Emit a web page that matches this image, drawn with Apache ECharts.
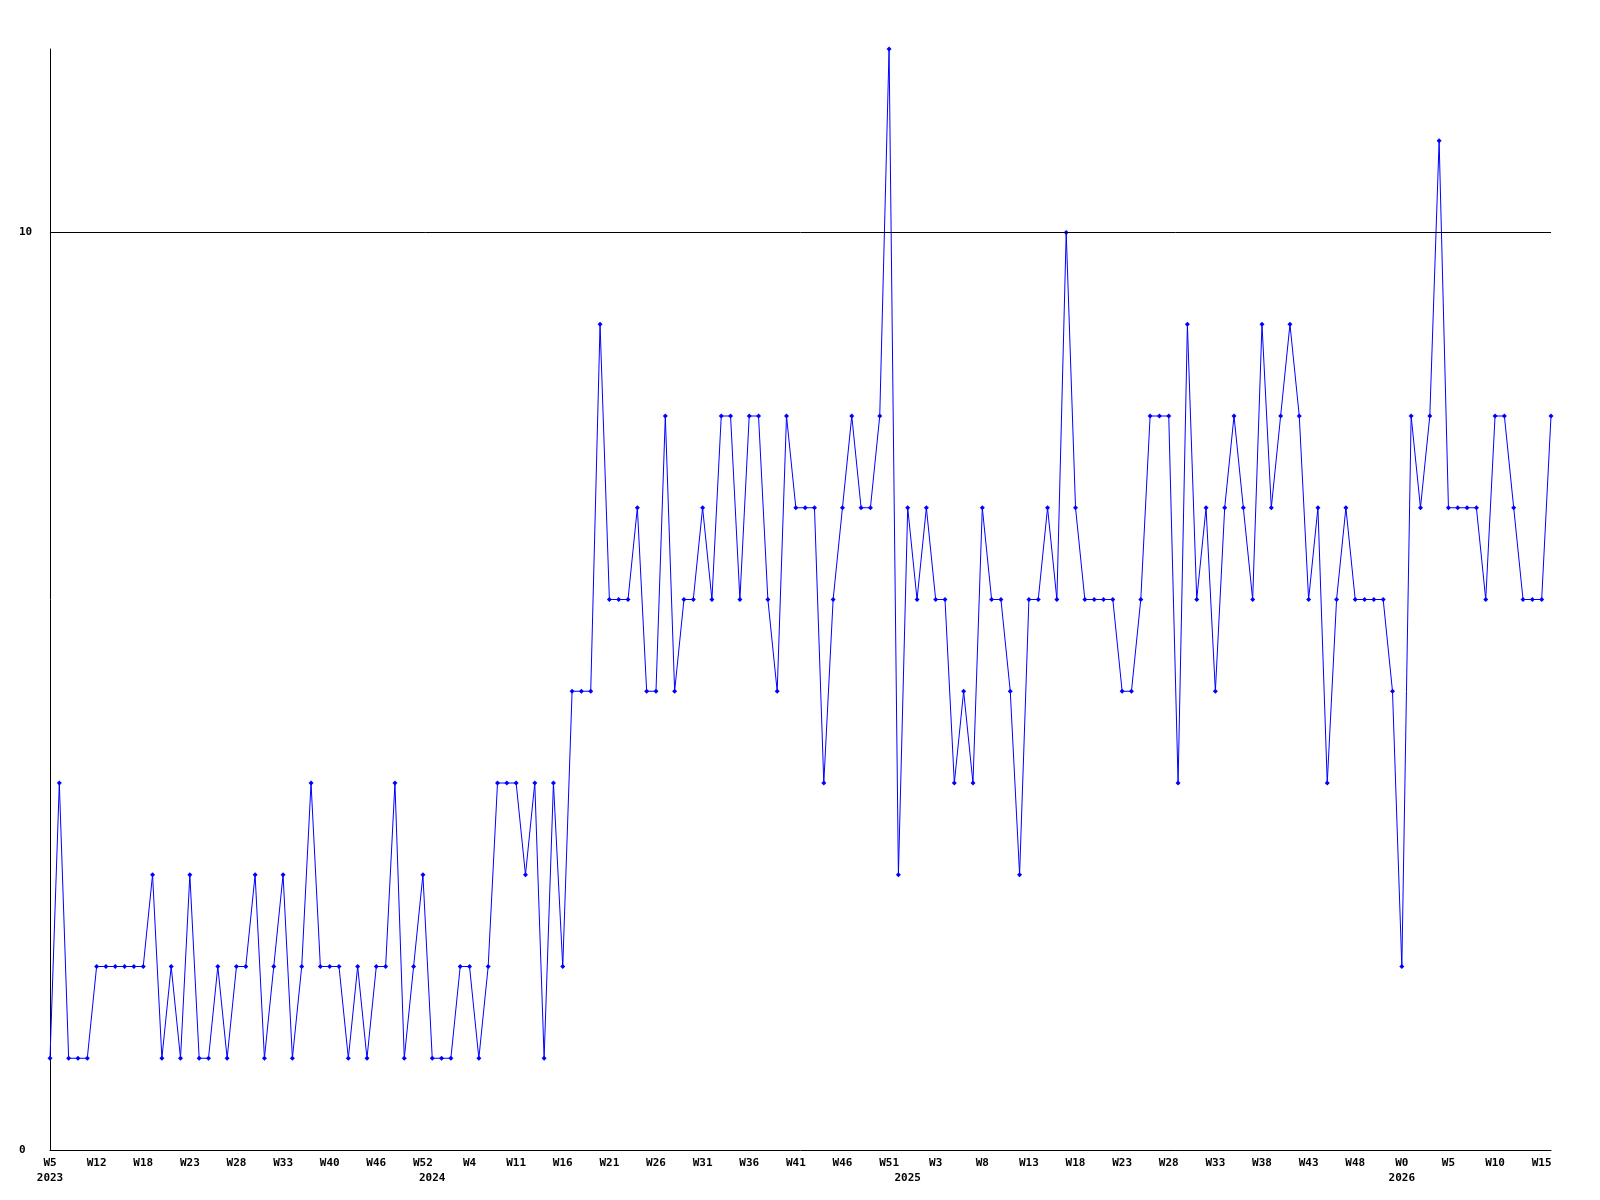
<!DOCTYPE html>
<html>
<head>
<meta charset="utf-8">
<script src="https://cdn.jsdelivr.net/npm/echarts@6/dist/echarts.min.js"></script>
<style>
html,body{margin:0;padding:0;background:#fff;}
#chart{width:1600px;height:1200px;}
</style>
</head>
<body>
<div id="chart"></div>
<script>
// Series values (one per data point, in order)
const values = [
  1,4,1,1,1,2,2,2,2,2,2,3,1,2,1,3,1,1,2,1,2,2,3,1,2,3,1,2,4,2,2,2,1,
  2,1,2,2,4,1,2,3,1,1,1,2,2,1,2,4,4,4,3,4,1,4,2,5,5,5,9,6,6,6,7,5,
  5,8,5,6,6,7,6,8,8,6,8,8,6,5,8,7,7,7,4,6,7,8,7,7,8,12,3,7,6,7,6,6,
  4,5,4,7,6,6,5,3,6,6,7,6,10,7,6,6,6,6,5,5,6,8,8,8,4,9,6,7,5,7,8,7,
  6,9,7,8,9,8,6,7,4,6,7,6,6,6,6,5,2,8,7,8,11,7,7,7,7,6,8,8,7,6,6,6,8
];
// Week tick labels, one every 5 points
const weekLabels = ['W5','W12','W18','W23','W28','W33','W40','W46','W52','W4','W11','W16','W21','W26','W31','W36','W41','W46','W51','W3','W8','W13','W18','W23','W28','W33','W38','W43','W48','W0','W5','W10','W15'];
const labelStep = 5;
// Year labels at the first point of each year
const yearIndex = [0, 41, 92, 145];
const yearLabels = ['2023', '2024', '2025', '2026'];
// Y tick labels
const yTicks = [0, 10];
const yMax = 12;

const data = values.map((v, i) => [i, v]);
const lastIdx = values.length - 1;
const font = { fontFamily: 'DejaVu Sans Mono', fontWeight: 'bold', fontSize: 11, color: '#000' };

const chart = echarts.init(document.getElementById('chart'), null, { renderer: 'canvas' });
chart.setOption({
  animation: false,
  backgroundColor: '#fff',
  grid: { left: 50, right: 49, top: 49, bottom: 50, containLabel: false },
  xAxis: [
    {
      type: 'value', min: 0, max: lastIdx, interval: labelStep,
      axisLine: { show: true, lineStyle: { color: '#000', width: 1 } },
      axisTick: { show: false },
      splitLine: { show: false },
      axisLabel: Object.assign({
        margin: 8, showMaxLabel: false, showMinLabel: true, hideOverlap: false,
        formatter: v => (v % labelStep === 0 && weekLabels[v / labelStep]) ? weekLabels[v / labelStep] : ''
      }, font)
    },
    {
      type: 'value', min: 0, max: lastIdx, position: 'bottom',
      axisLine: { show: false }, axisTick: { show: false }, splitLine: { show: false },
      axisLabel: Object.assign({
        margin: 23, customValues: yearIndex,
        formatter: v => { const k = yearIndex.indexOf(v); return k >= 0 ? yearLabels[k] : ''; }
      }, font)
    }
  ],
  yAxis: {
    type: 'value', min: 0, max: yMax,
    axisLine: { show: true, lineStyle: { color: '#000', width: 1 } },
    axisTick: { show: false },
    splitLine: { show: false },
    axisLabel: Object.assign({ customValues: yTicks, margin: 31, align: 'left' }, font)
  },
  series: [{
    type: 'line',
    data: data,
    xAxisIndex: 0,
    symbol: 'diamond',
    symbolSize: 5,
    showAllSymbol: true,
    lineStyle: { color: '#0000ff', width: 1 },
    itemStyle: { color: '#0000ff' },
    emphasis: { disabled: true },
    markLine: {
      silent: true, symbol: 'none',
      label: { show: false },
      lineStyle: { color: '#000', width: 1, type: 'solid' },
      emphasis: { disabled: true },
      data: [{ yAxis: 10 }]
    }
  }]
});
</script>
</body>
</html>
